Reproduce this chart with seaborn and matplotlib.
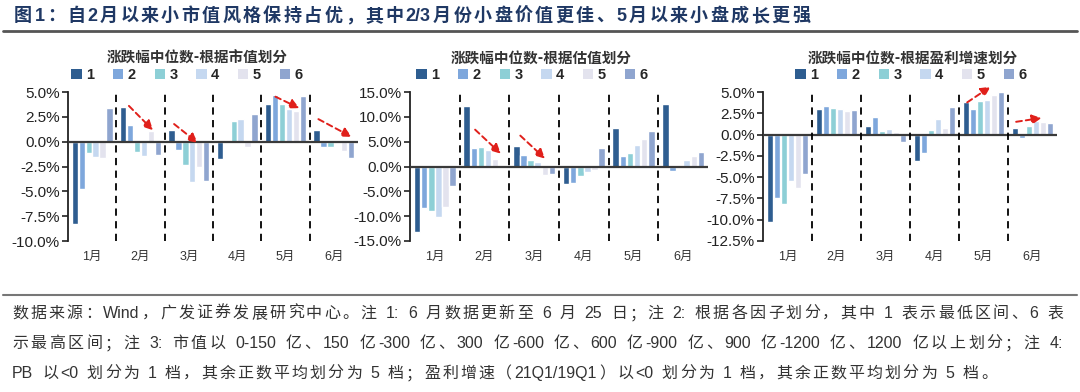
import re
import numpy as np
import pandas as pd
import matplotlib
matplotlib.use("Agg")
import matplotlib.pyplot as plt
import seaborn as sns
from matplotlib.patches import Patch
from matplotlib.lines import Line2D
from matplotlib.ticker import FuncFormatter, MultipleLocator

# Dados: mediana do retorno mensal por faixa (1 = menor, 6 = maior)
months = ['1月', '2月', '3月', '4月', '5月', '6月']
tiers = ['1', '2', '3', '4', '5', '6']

by_mktcap = [
    [-8.3, -4.8, -1.1, -1.5, -1.6, 3.4],
    [3.5, 1.7, -1.0, -1.4, 1.1, -1.3],
    [1.2, -0.8, -2.3, -4.1, -2.5, -4.0],
    [-1.7, 0.15, 2.1, 2.3, -0.5, 2.8],
    [3.8, 4.7, 3.8, 3.3, 3.1, 4.6],
    [1.2, -0.5, -0.5, 0.05, -0.9, -1.6],
]
by_valuation = [
    [-13.2, -8.4, -8.9, -10.2, -8.1, -4.0],
    [12.1, 3.7, 3.9, 3.4, 1.5, 0.3],
    [4.2, 2.4, 1.4, 1.0, -1.7, -1.5],
    [-3.6, -3.4, -2.0, -1.1, -0.8, 3.7],
    [7.8, 2.1, 2.8, 4.4, 5.5, 7.2],
    [12.6, -0.9, 0.05, 1.3, 2.1, 3.0],
]
by_growth = [
    [-10.3, -7.5, -8.1, -5.4, -6.3, -4.6],
    [3.0, 3.4, 3.1, 3.0, 2.8, 2.9],
    [1.0, 2.1, 0.4, 0.6, 0.3, -0.9],
    [-3.1, -2.2, 0.5, 1.8, 0.8, 3.2],
    [3.8, 3.0, 4.0, 4.1, 4.6, 5.0],
    [0.8, -0.4, 1.0, 1.6, 1.5, 1.4],
]

panel_titles = ['涨跌幅中位数-根据市值划分', '涨跌幅中位数-根据估值划分', '涨跌幅中位数-根据盈利增速划分']

# setas vermelhas: (x inicio, y inicio, x fim, y fim) em coordenadas de grupo
arrows_mktcap = [(0.72, 3.8, 1.30, 0.95), (1.65, 1.95, 2.23, -0.3),
                 (3.74, 4.65, 4.34, 3.25), (4.63, 2.4, 5.42, 0.35)]
arrows_valuation = [(0.77, 7.8, 1.37, 2.2), (1.68, 6.6, 2.26, 1.2)]
arrows_growth = [(3.62, 3.6, 4.19, 5.8), (4.61, 1.45, 5.24, 2.0)]

fig_title = '图1：自2月以来小市值风格保持占优，其中2/3月份小盘价值更佳、5月以来小盘成长更强'
notes = [
    '数据来源：Wind，广发证券发展研究中心。注 1: 6 月数据更新至 6 月 25 日；注 2: 根据各因子划分，其中 1 表示最低区间、6 表',
    '示最高区间；注 3: 市值以 0-150 亿、150 亿-300 亿、300 亿-600 亿、600 亿-900 亿、900 亿-1200 亿、1200 亿以上划分；注 4:',
    'PB 以<0 划分为 1 档，其余正数平均划分为 5 档；盈利增速（21Q1/19Q1）以<0 划分为 1 档，其余正数平均划分为 5 档。',
]

colors = ['#2e5d90', '#7ea7dc', '#8dcfd6', '#c5d8f0', '#e3e3ee', '#8fa5cf']

sns.set_theme(style='white')
plt.rcParams['font.family'] = ['Liberation Sans', 'Noto Sans CJK SC']

W, H = 1080, 392
fig = plt.figure(figsize=(W / 100, H / 100), dpi=100)
renderer = fig.canvas.get_renderer()


# texto justificado: espalha os pedaços (ideogramas / palavras latinas) entre x0 e x1
def spaced_text(x0, x1, y, s, **kw):
    tokens = re.findall(r'[A-Za-z0-9.<>/\-:%]+|.', s)
    widths = []
    for tk in tokens:
        t = fig.text(0, 0, tk, **kw)
        widths.append(t.get_window_extent(renderer).width)
        t.remove()
    extra = (x1 - x0 - sum(widths)) / (len(tokens) - 1)
    x = x0
    for tk, w in zip(tokens, widths):
        if tk.strip():
            fig.text(x / W, 1 - y / H, tk, ha='left', va='baseline', **kw)
        x += w + extra


panels = [
    (by_mktcap, arrows_mktcap, (-10, 5), 2.5, [68, 358], 197, 187),
    (by_valuation, arrows_valuation, (-15, 15), 5.0, [410, 708], 541, 532),
    (by_growth, arrows_growth, (-12.5, 5), 2.5, [763, 1057], 913, 911),
]

for (vals, arrows, ylim, step, xpx, title_x, leg_x), title in zip(panels, panel_titles):
    ax = fig.add_axes([xpx[0] / W, 1 - 241 / H, (xpx[1] - xpx[0]) / W, 149 / H])
    df = pd.DataFrame([(m, t, vals[i][j]) for i, m in enumerate(months)
                       for j, t in enumerate(tiers)], columns=['month', 'tier', 'value'])
    sns.barplot(data=df, x='month', y='value', hue='tier', palette=colors,
                width=0.86, gap=0.08, legend=False, ax=ax, saturation=1)

    ax.set_ylim(*ylim)
    ax.set_xlim(-0.5, 5.5)
    ax.yaxis.set_major_locator(MultipleLocator(step))
    ax.yaxis.set_major_formatter(FuncFormatter(lambda v, _: f'{v:.1f}%'))
    ax.set_xlabel('')
    ax.set_ylabel('')
    for s in ['top', 'right', 'bottom']:
        ax.spines[s].set_visible(False)
    ax.spines['left'].set_color('#222222')
    ax.spines['left'].set_linewidth(1.3)
    ax.tick_params(axis='y', direction='out', length=4, width=1.2, color='#222222',
                   labelsize=11, labelcolor='#222222', left=True, pad=2)
    ax.tick_params(axis='x', length=0, labelsize=9, labelcolor='#333333', pad=7)

    ax.axhline(0, color='#3a3a3a', lw=1.6, zorder=3)
    for k in range(5):
        ax.axvline(k + 0.5, color='black', ls=(0, (4, 3)), lw=1.3, zorder=4)

    for x0, y0, x1, y1 in arrows:
        ax.annotate('', xy=(x1, y1), xytext=(x0, y0), annotation_clip=False,
                    arrowprops=dict(arrowstyle='-|>', color='#e0201b', lw=1.4,
                                    ls=(0, (3, 2)), mutation_scale=14), zorder=6)

    fig.text(title_x / W, 1 - 58 / H, title, ha='center', va='center',
             fontsize=10.5, fontweight='bold', color='#333333',
             family=['Noto Sans CJK SC', 'DejaVu Sans'])
    handles = [Patch(facecolor=c, edgecolor='none') for c in colors]
    fig.legend(handles, tiers, loc='center', bbox_to_anchor=(leg_x / W, 1 - 75 / H),
               ncol=6, frameon=False, handlelength=0.7, handleheight=0.7,
               handletextpad=0.3, columnspacing=1.3,
               prop={'weight': 'bold', 'size': 10.5})

# titulo e notas
spaced_text(14, 810, 21, fig_title, fontsize=13, fontweight='bold', color='#1f3864')
fig.add_artist(Line2D([0.003, 0.997], [1 - 31 / H] * 2, transform=fig.transFigure,
                      color='#555555', lw=2))
fig.add_artist(Line2D([0.003, 0.997], [1 - 295 / H] * 2, transform=fig.transFigure,
                      color='#777777', lw=1.5))

note_ends = [1063, 1063, 997]
for i, (line, x1) in enumerate(zip(notes, note_ends)):
    spaced_text(12, x1, 318 + 30 * i, line, fontsize=11.5, color='#333333')

fig.savefig('out.png', dpi=100, facecolor='white')
